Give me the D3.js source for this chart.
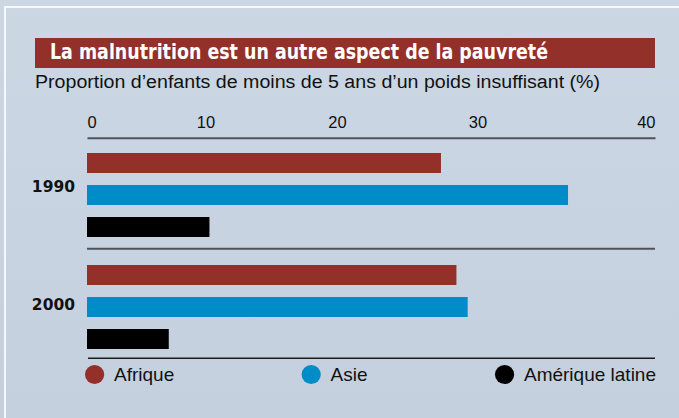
<!DOCTYPE html>
<html>
<head>
<meta charset="utf-8">
<script src="https://cdn.jsdelivr.net/npm/d3@7/dist/d3.min.js"></script>
<style>
  html, body { margin: 0; padding: 0; background: #c9d4e2; }
  svg { display: block; }
</style>
</head>
<body>
<svg id="chart" width="679" height="418"></svg>
<script>
// ---- Data ----
const title = "La malnutrition est un autre aspect de la pauvreté";
const subtitle = "Proportion d’enfants de moins de 5 ans d’un poids insuffisant (%)";
const years = ["1990", "2000"];
const series = ["Afrique", "Asie", "Amérique latine"];
const afrique = [27.4, 28.5];
const asie = [35.1, 29.3];
const ameriqueLatine = [10.3, 6.9];
const tickValues = [0, 10, 20, 30, 40];
const tickLabels = ["0", "10", "20", "30", "40"];
const colors = ["#93302a", "#008cc6", "#000000"];

const values = [afrique, asie, ameriqueLatine];

const W = 679, H = 418;
const svg = d3.select("#chart");

// background
const defs = svg.append("defs");
const grad = defs.append("linearGradient").attr("id", "bg").attr("x1", 0).attr("y1", 0).attr("x2", 0).attr("y2", 1);
grad.append("stop").attr("offset", "0%").attr("stop-color", "#ccd7e4");
grad.append("stop").attr("offset", "100%").attr("stop-color", "#c4d0de");
svg.append("rect").attr("width", W).attr("height", H).attr("fill", "url(#bg)");
svg.append("rect").attr("x", 5).attr("y", 7).attr("width", 720).attr("height", 440)
  .attr("fill", "none").attr("stroke", "#f4f7fb").attr("stroke-width", 2);

// title bar
svg.append("rect").attr("x", 35).attr("y", 38).attr("width", 620).attr("height", 30).attr("fill", "#93302a");
svg.append("text").attr("x", 50).attr("y", 58.5)
  .attr("font-family", "'Liberation Sans Narrow', 'DejaVu Sans Condensed', 'Liberation Sans', sans-serif")
  .attr("font-weight", "bold").attr("font-size", 22).attr("fill", "#ffffff")
  .attr("textLength", 498).attr("lengthAdjust", "spacingAndGlyphs")
  .text(title);

svg.append("text").attr("x", 35).attr("y", 88)
  .attr("font-family", "'Liberation Sans Narrow', 'Liberation Sans', sans-serif")
  .attr("font-size", 18).attr("fill", "#111")
  .attr("textLength", 565).attr("lengthAdjust", "spacingAndGlyphs")
  .text(subtitle);

// scales
const x = d3.scaleLinear().domain(tickValues).range([87, 205.5, 337, 477.5, 655]);
const y = d3.scaleBand().domain(years).range([153, 349]).paddingInner(0.25).paddingOuter(0);
const yInner = d3.scaleBand().domain(series).range([0, y.bandwidth()]).paddingInner(0.375).paddingOuter(0);

// top axis
const axis = d3.axisTop(x).tickValues(tickValues).tickFormat((d, i) => tickLabels[i])
  .tickSize(0).tickSizeOuter(0).tickPadding(10);
const ax = svg.append("g").attr("transform", "translate(0,137.7)").call(axis);
ax.select(".domain").attr("stroke", "#4f5358").attr("stroke-width", 2);
ax.selectAll(".tick text")
  .attr("font-family", "'Liberation Sans', Arial, sans-serif")
  .attr("font-size", 16.5).attr("fill", "#111")
  .attr("text-anchor", (d, i) => i === 0 ? "start" : (i === tickValues.length - 1 ? "end" : "middle"));

// separator lines
svg.append("line").attr("x1", x(0)).attr("x2", x(40))
  .attr("y1", y("2000") - 16.3).attr("y2", y("2000") - 16.3)
  .attr("stroke", "#4f5358").attr("stroke-width", 2);
svg.append("line").attr("x1", x(0) + 1).attr("x2", x(40))
  .attr("y1", y("2000") + y.bandwidth() + 9.3).attr("y2", y("2000") + y.bandwidth() + 9.3)
  .attr("stroke", "#1a1a1a").attr("stroke-width", 1.6);

// bars
const groups = svg.append("g").selectAll("g").data(years).join("g")
  .attr("transform", d => `translate(0,${y(d)})`);
groups.selectAll("rect")
  .data((yr, yi) => series.map((s, si) => ({ s, si, v: values[si][yi] })))
  .join("rect")
  .attr("x", x(0))
  .attr("y", d => yInner(d.s))
  .attr("width", d => x(d.v) - x(0))
  .attr("height", yInner.bandwidth())
  .attr("fill", d => colors[d.si]);

// year labels
const yearShift = [-9, -3];
svg.append("g").selectAll("text").data(years).join("text")
  .attr("x", 75)
  .attr("y", (d, i) => y(d) + y.bandwidth() / 2 + yearShift[i] + 5.8)
  .attr("text-anchor", "end")
  .attr("font-family", "'DejaVu Sans', sans-serif").attr("font-weight", "bold")
  .attr("font-size", 15.5).attr("fill", "#111")
  .text(d => d);

// legend (justified between x=85 and x=655)
const lg = svg.append("g");
const items = lg.selectAll("g").data(series).join("g");
items.append("circle").attr("r", 9.6).attr("cx", 9.6).attr("cy", 0).attr("fill", (d, i) => colors[i]);
items.append("text").attr("x", 29).attr("y", 6)
  .attr("font-family", "'Liberation Sans', Arial, sans-serif").attr("font-size", 19).attr("fill", "#111")
  .text(d => d);
const widths = [];
items.each(function () { widths.push(this.getBBox().width); });
const left = 85, right = 656;
const gap = (right - left - d3.sum(widths)) / (series.length - 1);
let cur = left;
items.attr("transform", (d, i) => { const t = `translate(${cur},374.5)`; cur += widths[i] + gap; return t; });
</script>
</body>
</html>
